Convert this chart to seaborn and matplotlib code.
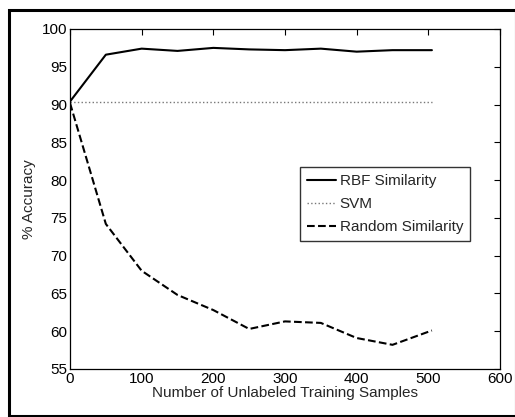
import numpy as np
import pandas as pd
import seaborn as sns
import matplotlib.pyplot as plt
from matplotlib.patches import Rectangle

# values
samples = [0, 50, 100, 150, 200, 250, 300, 350, 400, 450, 505]
rbf_acc = [90.4, 96.6, 97.4, 97.1, 97.5, 97.3, 97.2, 97.4, 97.0, 97.2, 97.2]
svm_acc = [90.3] * len(samples)
random_acc = [90.2, 74.2, 68.0, 64.8, 62.8, 60.3, 61.3, 61.1, 59.1, 58.2, 60.1]
series_names = ["RBF Similarity", "SVM", "Random Similarity"]

df = pd.DataFrame({
    "samples": samples * 3,
    "acc": rbf_acc + svm_acc + random_acc,
    "method": np.repeat(series_names, len(samples)),
})

sns.set_style("white")
plt.rcParams['font.family'] = ['Liberation Sans', 'DejaVu Sans']
plt.rcParams['font.size'] = 10.5

fig = plt.figure(figsize=(5.15, 4.17), dpi=100)
ax = fig.add_axes([70 / 515, 1 - 369 / 417, 430 / 515, 340 / 417])

styles = {"RBF Similarity": "-", "SVM": ":", "Random Similarity": "--"}
for name in series_names:
    sub = df[df["method"] == name]
    sns.lineplot(data=sub, x="samples", y="acc", ax=ax, color="black",
                 linestyle=styles[name], lw=1.5 if name != "SVM" else 1.0,
                 label=name)
# light grey dotted line for SVM, like the reference
ax.lines[1].set_color("#777777")

ax.set_xlim(0, 600)
ax.set_ylim(55, 100)
ax.set_xticks(range(0, 601, 100))
ax.set_yticks(range(55, 101, 5))
ax.tick_params(direction="in", top=True, right=True, length=4, width=0.8,
               labelsize=11, pad=2, colors="black")
for s in ax.spines.values():
    s.set_color("black")
    s.set_linewidth(0.9)
ax.set_xlabel("Number of Unlabeled Training Samples", fontsize=11, labelpad=0)
ax.set_ylabel("% Accuracy", fontsize=11, labelpad=4)

leg = ax.legend(loc="upper right", bbox_to_anchor=(0.93, 0.594), frameon=True,
                fancybox=False, edgecolor="black", fontsize=11,
                handlelength=1.9, handletextpad=0.25, borderpad=0.45,
                labelspacing=0.6, borderaxespad=0)
leg.get_frame().set_linewidth(1.0)

# outer frame around the figure
fig.patches.append(Rectangle((8.5 / 515, 1.5 / 417), 507 / 515, 406 / 417,
                             transform=fig.transFigure, fill=False,
                             edgecolor="black", lw=2.2))

fig.savefig("out.png", dpi=100)
